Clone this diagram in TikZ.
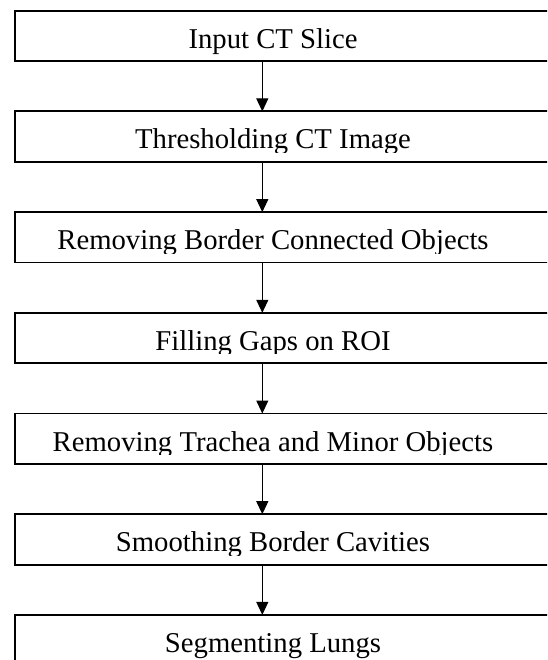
\documentclass[tikz,border=0pt]{standalone}
\usepackage{fontspec}
\setmainfont{Liberation Serif}
\usetikzlibrary{arrows.meta}
\tikzset{
  box/.style={draw=black, line width=1.8pt, fill=white, anchor=north west,
    minimum width=545pt, minimum height=50.4pt, inner sep=0pt, outer sep=0pt},
  lbl/.style={anchor=base, inner sep=0pt, outer sep=0pt,
    font=\fontsize{28.7}{34}\selectfont},
  arr/.style={draw=black, line width=1.1pt, -{Triangle[width=12pt,length=13pt]}}
}
\begin{document}
\begin{tikzpicture}[x=1pt,y=-1pt]
\useasboundingbox (0,0) rectangle (547,660);
\clip (0,0) rectangle (547,660);
\fill[white] (0,0) rectangle (547,660);
\coordinate (ax) at (262.3,0);
% boxes
\node[box] (b1) at (14.7,10.7) {};
\node[box] (b2) at (14.7,111.4) {};
\node[box] (b3) at (14.7,212.1) {};
\node[box] (b4) at (14.7,312.8) {};
\node[box] (b5) at (14.7,413.5) {};
\node[box] (b6) at (14.7,514.2) {};
\node[box] (b7) at (14.7,614.9) {};
% labels
\node[lbl] (t1) at (273,48.3) {Input CT Slice};
\begin{scope}
  \clip (0,111.4) rectangle (547,152.5);
  \node[lbl] (t2) at (273,149.0) {Thresholding CT Image};
\end{scope}
\begin{scope}
  \clip (0,212.1) rectangle (547,253.2);
  \node[lbl] (t3) at (273,249.7) {Removing Border Connected Objects};
\end{scope}
\begin{scope}
  \clip (0,312.8) rectangle (547,353.9);
  \node[lbl] (t4) at (273,350.4) {Filling Gaps on ROI};
\end{scope}
\begin{scope}
  \clip (0,413.5) rectangle (547,454.6);
  \node[lbl] (t5) at (273,451.1) {Removing Trachea and Minor Objects};
\end{scope}
\begin{scope}
  \clip (0,514.2) rectangle (547,555.3);
  \node[lbl] (t6) at (273,551.8) {Smoothing Border Cavities};
\end{scope}
\node[lbl] (t7) at (273,652.5) {Segmenting Lungs};
% arrows
\draw[arr] (b1.south -| ax) -- (b2.north -| ax);
\draw[arr] (b2.south -| ax) -- (b3.north -| ax);
\draw[arr] (b3.south -| ax) -- (b4.north -| ax);
\draw[arr] (b4.south -| ax) -- (b5.north -| ax);
\draw[arr] (b5.south -| ax) -- (b6.north -| ax);
\draw[arr] (b6.south -| ax) -- (b7.north -| ax);
\end{tikzpicture}
\end{document}
